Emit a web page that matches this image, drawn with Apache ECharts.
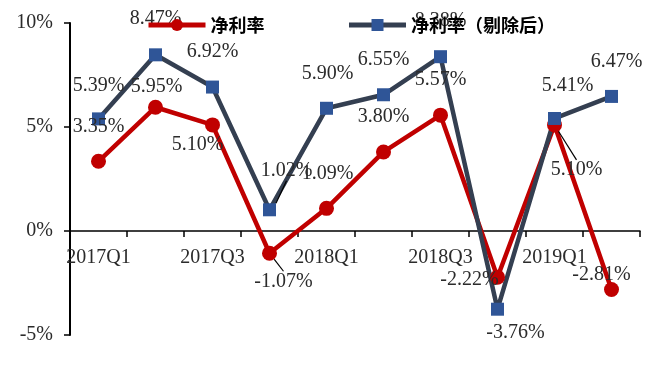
<!DOCTYPE html>
<html>
<head>
<meta charset="utf-8">
<script src="https://cdn.jsdelivr.net/npm/echarts@6/dist/echarts.min.js"></script>
<style>
  html, body { margin: 0; padding: 0; background: #fff; }
  #chart { width: 656px; height: 365px; }
</style>
</head>
<body>
<div id="chart"></div>
<script>
// Quarterly net margin, reported and adjusted (%)
const quarters = ['2017Q1', '2017Q2', '2017Q3', '2017Q4', '2018Q1', '2018Q2', '2018Q3', '2018Q4', '2019Q1', '2019Q2'];
const netMargin = [3.35, 5.95, 5.10, -1.07, 1.09, 3.80, 5.57, -2.22, 5.10, -2.81];
const netMarginAdj = [5.39, 8.47, 6.92, 1.02, 5.90, 6.55, 8.38, -3.76, 5.41, 6.47];
const yMin = -5, yMax = 10, yStep = 5;

// Label placement: shift of each label's centre from its marker, in px
const netShift = [[0, -35], [1, -20], [-15, 20], [14, 28], [1, -35], [0, -35], [0, -35], [-28, 3], [22, 45], [-10, -15]];
const adjShift = [[0, -33], [0, -36], [0, -35], [17, -39], [1, -35], [0, -35], [0, -36], [18, 24], [13, -33], [5, -35]];
// Points whose label gets a leader line
const netGuides = [3, 8];
const adjGuides = [3];

const serif = 'Liberation Serif';
const cjk = 'Noto Sans CJK SC';

const W = 656, H = 365;
const grid = { left: 70, right: 16, top: 23, bottom: 30 };
const plotH = H - grid.top - grid.bottom;
// the category axis sits on the zero line, labels included
const xAxisOffset = -plotH * (0 - yMin) / (yMax - yMin);

function makeSeries(name, values, shifts, guides, color, lineColor, symbol, symbolSize) {
  return {
    name: name,
    type: 'line',
    data: values.map((v, i) => ({ value: v, labelLine: { show: guides.includes(i) } })),
    symbol: symbol,
    symbolSize: symbolSize,
    lineStyle: { color: lineColor, width: 4.5 },
    itemStyle: { color: color, borderWidth: 0 },
    label: {
      show: true,
      position: 'inside',
      fontFamily: serif,
      fontSize: 20,
      color: '#2b2b2b',
      formatter: p => p.value.toFixed(2) + '%'
    },
    labelLine: { show: false, lineStyle: { color: '#000', width: 1.2 } },
    labelLayout: p => ({ dx: shifts[p.dataIndex][0], dy: shifts[p.dataIndex][1] }),
    emphasis: { disabled: true },
    animation: false
  };
}

const chart = echarts.init(document.getElementById('chart'));
chart.setOption({
  backgroundColor: '#fff',
  animation: false,
  legend: {
    left: 141,
    top: 11,
    itemWidth: 57,
    itemHeight: 15,
    itemGap: 82,
    lineStyle: { width: 5 },
    textStyle: { fontFamily: cjk, fontWeight: 'bold', fontSize: 18, color: '#000' },
    data: ['净利率', '净利率（剔除后）']
  },
  grid: Object.assign({ containLabel: false }, grid),
  xAxis: {
    type: 'category',
    data: quarters,
    boundaryGap: true,
    offset: xAxisOffset,
    axisLine: { show: true, onZero: false, lineStyle: { color: '#000', width: 1.5 } },
    axisTick: { show: true, interval: 0, length: 6, lineStyle: { color: '#000', width: 1.5 } },
    axisLabel: { interval: 1, margin: 17, fontFamily: serif, fontSize: 20, color: '#2b2b2b' },
    splitLine: { show: false }
  },
  yAxis: {
    type: 'value',
    min: yMin,
    max: yMax,
    interval: yStep,
    axisLine: { show: true, lineStyle: { color: '#000', width: 2 } },
    axisTick: { show: true, length: 6, lineStyle: { color: '#000', width: 1.5 } },
    axisLabel: { margin: 17, fontFamily: serif, fontSize: 20, color: '#2b2b2b', formatter: '{value}%' },
    splitLine: { show: false }
  },
  series: [
    makeSeries('净利率', netMargin, netShift, netGuides, '#C00000', '#C00000', 'circle', 15),
    makeSeries('净利率（剔除后）', netMarginAdj, adjShift, adjGuides, '#2F5597', '#343F51', 'rect', 13)
  ]
});
</script>
</body>
</html>
